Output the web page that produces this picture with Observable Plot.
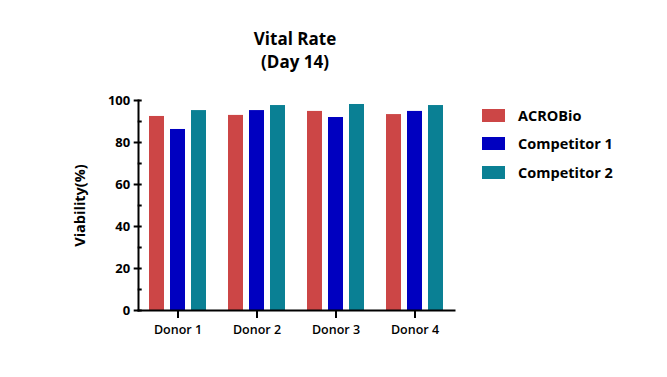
<!DOCTYPE html>
<html>
<head>
<meta charset="utf-8">
<script src="https://cdn.jsdelivr.net/npm/d3@7"></script>
<script src="https://cdn.jsdelivr.net/npm/@observablehq/plot@0.6"></script>
<style>
  html, body { margin: 0; padding: 0; background: #fff; }
  #wrap { position: relative; width: 667px; height: 377px; font-family: "Open Sans", sans-serif; }
  #title { position: absolute; left: 195px; width: 200px; top: 27px; text-align: center;
           font-size: 17px; font-weight: 700; line-height: 23px; color: #000; }
  #legend { position: absolute; left: 482px; top: 101px; }
  .row { display: flex; align-items: center; height: 28.5px; font-size: 14.5px; font-weight: 700; color: #000; }
  .sw { width: 23px; height: 13px; margin-right: 13px; }
  #chart { position: absolute; left: 0; top: 0; }
</style>
</head>
<body>
<div id="wrap">
  <div id="chart"></div>
  <div id="title">Vital Rate<br>(Day 14)</div>
  <div id="legend"></div>
</div>
<script>
const donors = ["Donor 1", "Donor 2", "Donor 3", "Donor 4"];
const series = ["ACROBio", "Competitor 1", "Competitor 2"];
const acrobio = [92.4, 92.9, 94.8, 93.3];
const competitor1 = [86.2, 95.2, 91.9, 94.8];
const competitor2 = [95.2, 97.6, 98.1, 97.6];
const colors = ["#CC4646", "#0000C0", "#0A8094"];
const yTicks = [0, 20, 40, 60, 80, 100];
const yMinorTicks = [10, 30, 50, 70, 90];
const yLabel = "Viability(%)";

const valuesBySeries = [acrobio, competitor1, competitor2];
const data = [];
donors.forEach((d, i) => series.forEach((s, j) => data.push({donor: d, series: s, value: valuesBySeries[j][i]})));

const font = "Open Sans, sans-serif";
const fxStart = 137.3; // facet band start; the y axis sits at the plot's left margin (141)
const axisShift = 141 - fxStart;
const chart = Plot.plot({
  width: 667,
  height: 377,
  marginLeft: 141,
  marginRight: 215,
  marginTop: 100,
  marginBottom: 67,
  style: {fontFamily: font, color: "#000", background: "transparent"},
  fx: {domain: donors, range: [fxStart, 454.1], padding: 0, label: null},
  x: {domain: series, paddingInner: 0.3, paddingOuter: 0.49, axis: null},
  y: {domain: [0, 100], label: null},
  color: {domain: series, range: colors},
  marks: [
    Plot.barY(data, {fx: "donor", x: "series", y: "value", fill: "series"}),
    Plot.axisFx({anchor: "bottom", tickSize: 8, strokeWidth: 2, tickPadding: 7, fontSize: 12.5, fontWeight: 600, label: null}),
    Plot.axisY(yTicks, {anchor: "left", dx: axisShift, tickSize: 8, strokeWidth: 2, tickPadding: 4, fontSize: 13, fontWeight: 700, label: null}),
    Plot.axisY(yMinorTicks, {anchor: "left", dx: axisShift, tickSize: 4, strokeWidth: 2, text: null, label: null}),
    Plot.axisY([], {anchor: "left", tickSize: 0, text: null, fontSize: 14.5, fontWeight: 700,
      label: yLabel, labelAnchor: "center", labelArrow: "none", labelOffset: 64}),
    Plot.frame({anchor: "bottom", facet: "super", strokeWidth: 2}),
    Plot.frame({anchor: "left", facet: "super", strokeWidth: 2})
  ]
});
document.getElementById("chart").appendChild(chart);

const legend = document.getElementById("legend");
series.forEach((s, i) => {
  const row = document.createElement("div");
  row.className = "row";
  const sw = document.createElement("div");
  sw.className = "sw";
  sw.style.background = colors[i];
  const t = document.createElement("span");
  t.textContent = s;
  row.appendChild(sw); row.appendChild(t);
  legend.appendChild(row);
});
</script>
</body>
</html>
